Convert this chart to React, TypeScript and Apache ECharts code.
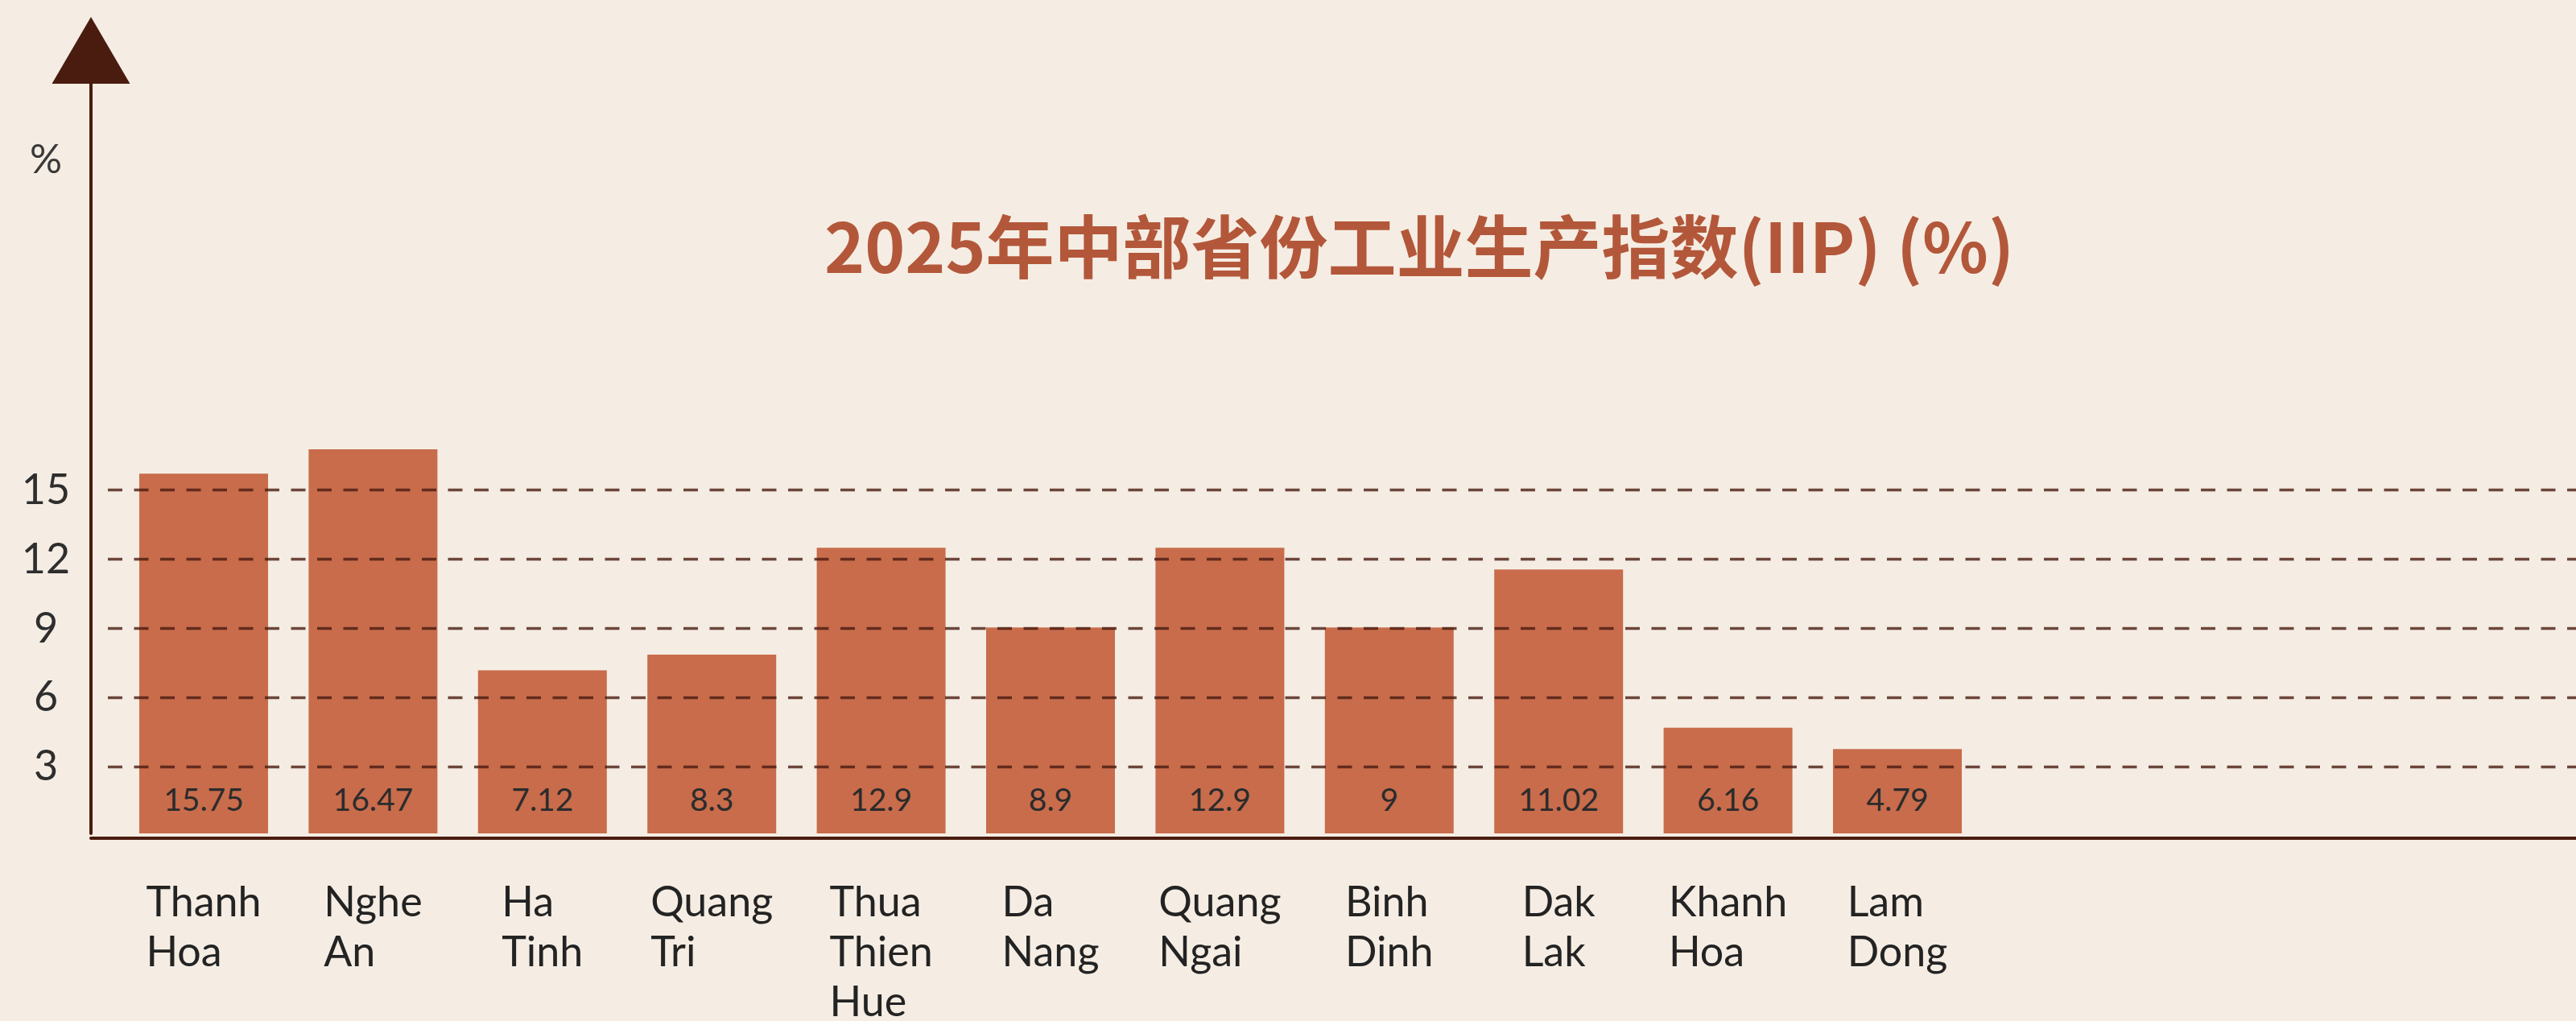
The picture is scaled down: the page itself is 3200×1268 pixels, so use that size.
import React, { useEffect, useRef } from "react";
import * as echarts from "echarts";

const categories = [
  "Thanh Hoa",
  "Nghe An",
  "Ha Tinh",
  "Quang Tri",
  "Thua Thien Hue",
  "Da Nang",
  "Quang Ngai",
  "Binh Dinh",
  "Dak Lak",
  "Khanh Hoa",
  "Lam Dong",
];
// bar heights as drawn in the picture
const barHeights = [15.62, 16.68, 7.08, 7.76, 12.4, 8.94, 12.4, 8.94, 11.46, 4.59, 3.66];
// value labels printed inside the bars
const valueLabels = ["15.75", "16.47", "7.12", "8.3", "12.9", "8.9", "12.9", "9", "11.02", "6.16", "4.79"];
const tickLabels = [3, 6, 9, 12, 15];

const TITLE = "2025年中部省份工业生产指数(IIP) (%)";
const UNIT = "%";

const W = 3200;
const H = 1268;
const ZERO_Y = 1038.3;
const PX_PER_UNIT = 28.7;
const AXIS_X = 113;
const FIRST_CENTER = 253;
const BAND = 210.4;
const Y_MAX = 34;
const GRID_MIN = 3;
const GRID_MAX = 15;

const DARK = "#4a1c10";
const BAR = "#c86c4b";
const BG = "#f5ede3";
const TEXT = "#232323";
const FONT = "Lato, 'Noto Sans', sans-serif";

export default function App() {
  const ref = useRef<HTMLDivElement>(null);

  useEffect(() => {
    document.body.style.margin = "0";
    document.body.style.background = BG;
    if (!ref.current) return;
    const chart = echarts.init(ref.current, undefined, { renderer: "svg" });

    const barLeft = FIRST_CENTER - BAND / 2;
    const barWidthTotal = BAND * categories.length;

    const option: any = {
      animation: false,
      backgroundColor: BG,
      title: {
        text: TITLE,
        left: 1024,
        top: 259,
        padding: 0,
        textStyle: {
          fontFamily: "'Noto Sans CJK SC', sans-serif",
          fontSize: 85,
          fontWeight: "bold",
          color: "#b3573a",
        },
      },
      graphic: [
        {
          type: "text",
          x: 57,
          y: 196,
          style: {
            text: UNIT,
            fontFamily: FONT,
            fontSize: 50,
            fill: "#3a3a3a",
            align: "center",
            verticalAlign: "middle",
          },
        },
      ],
      grid: [
        {
          left: barLeft,
          width: barWidthTotal,
          top: ZERO_Y - Y_MAX * PX_PER_UNIT,
          bottom: H - ZERO_Y,
        },
        {
          left: 134,
          right: 0,
          top: ZERO_Y - GRID_MAX * PX_PER_UNIT,
          bottom: H - (ZERO_Y - GRID_MIN * PX_PER_UNIT),
        },
        {
          left: AXIS_X,
          right: 0,
          top: 100,
          bottom: H - 1040.5,
        },
      ],
      xAxis: [
        {
          gridIndex: 0,
          type: "category",
          data: categories,
          axisLine: { show: false },
          axisTick: { show: false },
          axisLabel: {
            interval: 0,
            margin: 52,
            formatter: (v: string) =>
              v
                .split(" ")
                .map((w) => `{a|${w}}`)
                .join("\n"),
            rich: {
              a: {
                fontFamily: FONT,
                fontSize: 52,
                lineHeight: 62,
                color: TEXT,
                align: "left",
              },
            },
          },
        },
        {
          gridIndex: 1,
          type: "value",
          show: false,
        },
        {
          gridIndex: 2,
          type: "value",
          min: 0,
          max: 1,
          axisLine: { show: true, lineStyle: { color: DARK, width: 4 } },
          axisTick: { show: false },
          axisLabel: { show: false },
          splitLine: { show: false },
        },
      ],
      yAxis: [
        {
          gridIndex: 0,
          type: "value",
          min: 0,
          max: Y_MAX,
          interval: 3,
          offset: barLeft - AXIS_X,
          axisLine: {
            show: true,
            symbol: ["none", "triangle"],
            symbolSize: [97, 83],
            lineStyle: { color: DARK, width: 4 },
          },
          axisTick: { show: false },
          splitLine: { show: false },
          axisLabel: {
            margin: 56,
            align: "center",
            fontFamily: FONT,
            fontSize: 52,
            color: "#2e2e2e",
            formatter: (v: number) => (tickLabels.includes(v) ? String(v) : ""),
          },
        },
        {
          gridIndex: 1,
          type: "value",
          min: GRID_MIN,
          max: GRID_MAX,
          interval: 3,
          z: 5,
          axisLine: { show: false },
          axisTick: { show: false },
          axisLabel: { show: false },
          splitLine: {
            show: true,
            lineStyle: {
              color: "rgba(74,28,16,0.8)",
              width: 3.4,
              type: [18, 14.5],
            },
          },
        },
        {
          gridIndex: 2,
          type: "value",
          show: false,
        },
      ],
      series: [
        {
          type: "bar",
          xAxisIndex: 0,
          yAxisIndex: 0,
          data: barHeights,
          barWidth: 160,
          z: 3,
          itemStyle: { color: BAR },
          label: {
            show: true,
            position: "insideBottom",
            distance: 24,
            fontFamily: FONT,
            fontSize: 39,
            color: "#2b2b2b",
            formatter: (p: any) => valueLabels[p.dataIndex],
          },
        },
      ],
    };

    chart.setOption(option);
    return () => chart.dispose();
  }, []);

  return <div ref={ref} style={{ width: W, height: H }} />;
}
